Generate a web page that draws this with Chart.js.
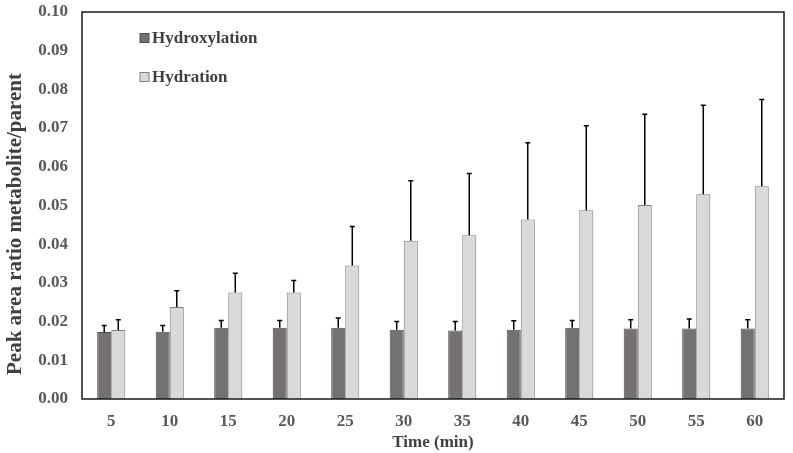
<!DOCTYPE html>
<html>
<head>
<meta charset="utf-8">
<script src="https://cdn.jsdelivr.net/npm/chart.js@4.4.1/dist/chart.umd.min.js"></script>
<style>
  html, body { margin: 0; padding: 0; background: #fff; }
  #wrap { width: 793px; height: 453px; position: relative; }
</style>
</head>
<body>
<div id="wrap"><canvas id="myChart"></canvas></div>
<script>
// time points (min)
var timeLabels = ["5", "10", "15", "20", "25", "30", "35", "40", "45", "50", "55", "60"];

// peak area ratio metabolite/parent (mean) and upper error (SD)
var hydroxylation = [0.0173, 0.0174, 0.0184, 0.0184, 0.0184, 0.0179, 0.0177, 0.0179, 0.0184, 0.0182, 0.0182, 0.0182];
var hydroxylationErr = [0.0017, 0.0016, 0.0019, 0.0019, 0.0025, 0.0021, 0.0023, 0.0023, 0.0019, 0.0023, 0.0025, 0.0023];
var hydration = [0.0178, 0.0238, 0.0275, 0.0275, 0.0345, 0.0409, 0.0423, 0.0464, 0.0488, 0.0501, 0.0529, 0.0550];
var hydrationErr = [0.0027, 0.0042, 0.0050, 0.0031, 0.0101, 0.0155, 0.0160, 0.0198, 0.0218, 0.0235, 0.0230, 0.0224];

var yTicks = [0, 0.01, 0.02, 0.03, 0.04, 0.05, 0.06, 0.07, 0.08, 0.09, 0.10];
var yTitle = "Peak area ratio metabolite/parent";

var serif = "'Liberation Serif', 'Times New Roman', serif";

// error bars (upper only) + box round the plot area
var errorBarPlugin = {
  id: "errorBars",
  afterDatasetsDraw: function (chart) {
    var ctx = chart.ctx;
    var yScale = chart.scales.y;
    ctx.save();
    ctx.strokeStyle = "#000";
    ctx.lineWidth = 1.5;
    chart.data.datasets.forEach(function (ds, di) {
      var meta = chart.getDatasetMeta(di);
      meta.data.forEach(function (bar, i) {
        var top = yScale.getPixelForValue(ds.data[i] + ds.errors[i]);
        ctx.beginPath();
        ctx.moveTo(bar.x, bar.y);
        ctx.lineTo(bar.x, top);
        ctx.moveTo(bar.x - 2.5, top);
        ctx.lineTo(bar.x + 2.5, top);
        ctx.stroke();
      });
    });
    var a = chart.chartArea;
    ctx.strokeStyle = "#1a1a1a";
    ctx.lineWidth = 1.5;
    ctx.strokeRect(a.left, a.top, a.right - a.left, a.bottom - a.top);
    ctx.restore();
  }
};

// legend inside the plot (top left) and the rotated y title, placed like the Excel original
var innerLegendPlugin = {
  id: "innerLegend",
  afterDraw: function (chart) {
    var ctx = chart.ctx;
    var rows = [38, 77];
    ctx.save();
    ctx.font = "bold 17px " + serif;
    ctx.textBaseline = "middle";
    chart.data.datasets.forEach(function (ds, i) {
      var y = rows[i];
      ctx.fillStyle = ds.backgroundColor;
      ctx.strokeStyle = ds.borderColor;
      ctx.lineWidth = 1;
      ctx.fillRect(140, y - 4.5, 9, 9);
      ctx.strokeRect(140, y - 4.5, 9, 9);
      ctx.fillStyle = "#404040";
      ctx.fillText(ds.label, 152, y + 1);
    });
    ctx.restore();

    ctx.save();
    ctx.translate(16, 224);
    ctx.rotate(-Math.PI / 2);
    ctx.font = "bold 21px " + serif;
    ctx.fillStyle = "#404040";
    ctx.textAlign = "center";
    ctx.textBaseline = "middle";
    ctx.fillText(yTitle, 0, 0);
    ctx.restore();
  }
};

document.addEventListener("DOMContentLoaded", function () {
  var ctx = document.getElementById("myChart").getContext("2d");
  window.myChart = new Chart(ctx, {
    type: "bar",
    data: {
      labels: timeLabels,
      datasets: [
        {
          label: "Hydroxylation",
          data: hydroxylation,
          errors: hydroxylationErr,
          backgroundColor: "#767171",
          borderColor: "#4d4d4d",
          borderWidth: 1
        },
        {
          label: "Hydration",
          data: hydration,
          errors: hydrationErr,
          backgroundColor: "#d9d9d9",
          borderColor: "#7f7f7f",
          borderWidth: 1
        }
      ]
    },
    options: {
      responsive: true,
      maintainAspectRatio: false,
      animation: false,
      datasets: {
        bar: { categoryPercentage: 0.48, barPercentage: 1.0 }
      },
      layout: { padding: { top: 12, right: 9, left: 0, bottom: 0 } },
      plugins: {
        legend: { display: false },
        tooltip: { enabled: false }
      },
      scales: {
        x: {
          grid: { display: false, drawTicks: false },
          border: { display: false },
          ticks: {
            color: "#595959",
            padding: 12,
            font: { family: serif, size: 17, weight: "bold" }
          },
          title: {
            display: true,
            text: "Time (min)",
            color: "#404040",
            padding: { top: 0, bottom: 0 },
            font: { family: serif, size: 17, weight: "bold" }
          },
          afterFit: function (scale) { scale.height = 54; }
        },
        y: {
          min: 0,
          max: 0.1,
          grid: { display: false, drawTicks: false },
          border: { display: false },
          afterBuildTicks: function (scale) {
            scale.ticks = yTicks.map(function (v) { return { value: v }; });
          },
          ticks: {
            color: "#595959",
            padding: 14,
            font: { family: serif, size: 17, weight: "bold" },
            callback: function (v) { return Number(v).toFixed(2); }
          },
          afterFit: function (scale) {
            scale.width = 82;
            scale.paddingTop = 0;
            scale.paddingBottom = 0;
          }
        }
      }
    },
    plugins: [errorBarPlugin, innerLegendPlugin]
  });
});
</script>
</body>
</html>
